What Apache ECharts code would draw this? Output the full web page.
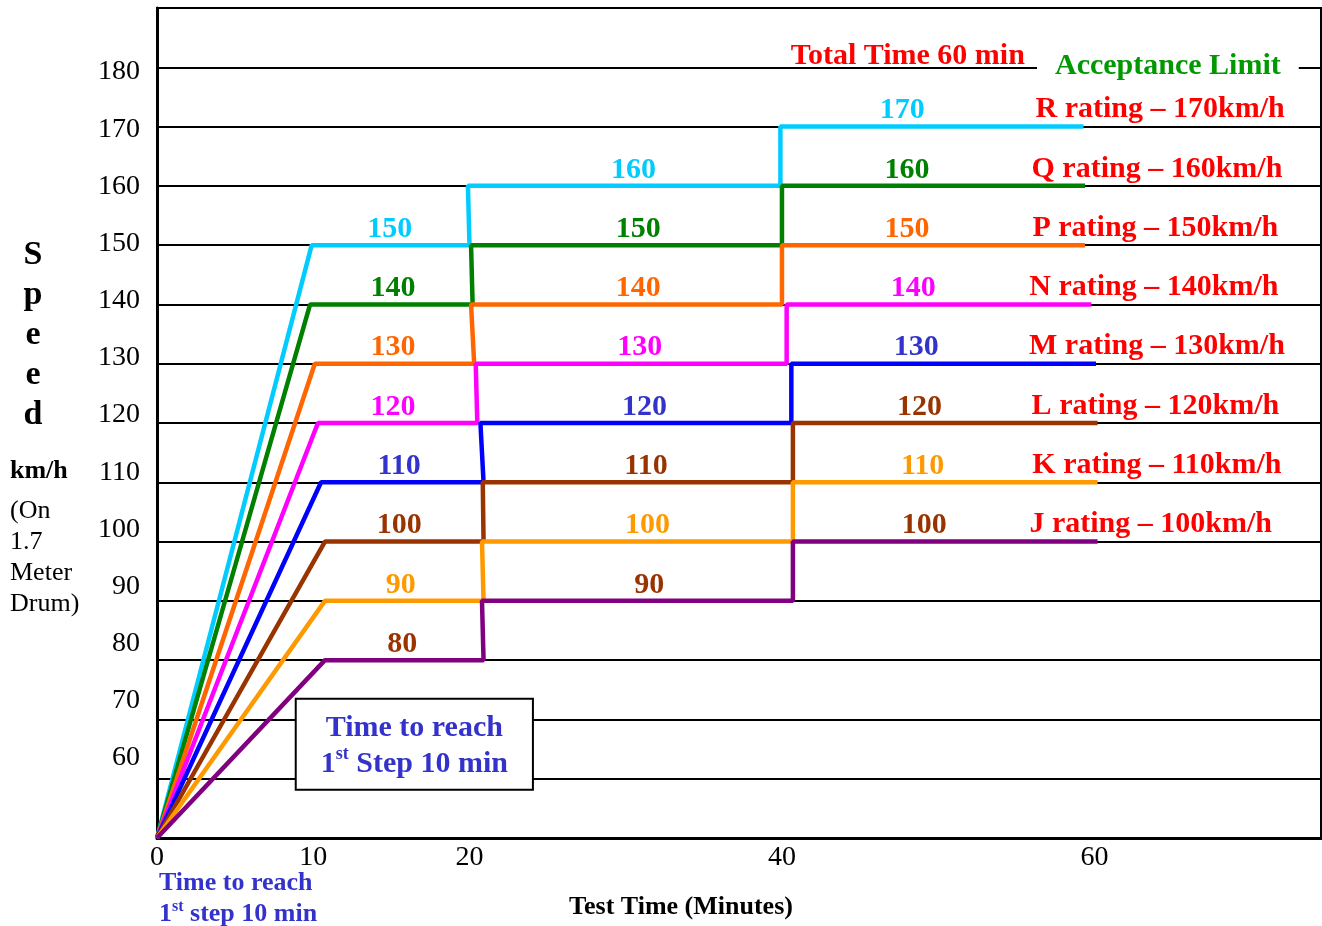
<!DOCTYPE html>
<html>
<head>
<meta charset="utf-8">
<script src="https://cdn.jsdelivr.net/npm/echarts@6/dist/echarts.min.js"></script>
<style>
html,body{margin:0;padding:0;background:#fff;}
#chart{width:1322px;height:926px;}
</style>
</head>
<body>
<div id="chart"></div>
<script>
// ---- Data ----
const ratingLetters = ['R', 'Q', 'P', 'N', 'M', 'L', 'K', 'J'];
const ratingNames = [
  'R rating – 170km/h', 'Q rating – 160km/h', 'P rating – 150km/h', 'N rating – 140km/h',
  'M rating – 130km/h', 'L rating – 120km/h', 'K rating – 110km/h', 'J rating – 100km/h'
];
const ratingSpeeds = [170, 160, 150, 140, 130, 120, 110, 100];

// step profile of each rating: time (min) and speed (km/h) at each corner
const stepTimes = [
  [0, 9.9, 20.0, 19.9, 39.9, 39.9, 59.3],
  [0, 9.8, 20.2, 20.1, 40.0, 40.0, 59.4],
  [0, 10.1, 20.3, 20.1, 40.0, 40.0, 59.4],
  [0, 10.3, 20.5, 20.4, 40.3, 40.3, 59.8],
  [0, 10.5, 20.9, 20.7, 40.6, 40.6, 60.1],
  [0, 10.75, 20.9, 20.85, 40.7, 40.7, 60.2],
  [0, 10.75, 20.9, 20.8, 40.7, 40.7, 60.2],
  [0, 10.75, 20.9, 20.8, 40.7, 40.7, 60.2]
];
const stepSpeeds = [
  [50, 150, 150, 160, 160, 170, 170],
  [50, 140, 140, 150, 150, 160, 160],
  [50, 130, 130, 140, 140, 150, 150],
  [50, 120, 120, 130, 130, 140, 140],
  [50, 110, 110, 120, 120, 130, 130],
  [50, 100, 100, 110, 110, 120, 120],
  [50, 90, 90, 100, 100, 110, 110],
  [50, 80, 80, 90, 90, 100, 100]
];
// time at which each step's value label sits (step 1, 2, 3)
const valueLabelTimes = [
  [14.9, 30.5, 47.7],
  [15.1, 30.8, 48.0],
  [15.1, 30.8, 48.0],
  [15.1, 30.9, 48.4],
  [15.5, 31.2, 48.6],
  [15.5, 31.3, 48.8],
  [15.6, 31.4, 49.0],
  [15.7, 31.5, 49.1]
];
const ratingLabelTimes = [64.2, 64.0, 63.9, 63.8, 64.0, 63.9, 64.0, 63.6];

const xTickValues = [0, 10, 20, 40, 60];
const yTickValues = [60, 70, 80, 90, 100, 110, 120, 130, 140, 150, 160, 170, 180];

const annotationTotal = { text: 'Total Time 60 min', time: 48.05, speed: 180 };
const annotationLimit = { text: 'Acceptance Limit', time: 64.7, speed: 180 };
const annotationBox = { time: 16.47, speed: 65.8 };

// ---- Styles ----
const lineColors = ['#00CCFF', '#008000', '#FF6600', '#FF00FF', '#0000FF', '#993300', '#FF9900', '#800080'];
const valueLabelColors = ['#00CCFF', '#008000', '#FF6600', '#FF00FF', '#3333CC', '#993300', '#FF9900', '#993300'];
const SERIF = '"Liberation Serif", "Times New Roman", serif';

const series = ratingLetters.map((letter, i) => {
  const valueMarks = [1, 3, 5].map((k, j) => ({
    coord: [valueLabelTimes[i][j], stepSpeeds[i][k]],
    value: stepSpeeds[i][k],
    label: {
      show: true,
      formatter: String(stepSpeeds[i][k]),
      color: valueLabelColors[i],
      fontSize: 30,
      fontWeight: 'bold',
      fontFamily: SERIF,
      offset: [0, -16]
    }
  }));
  const ratingMark = {
    coord: [ratingLabelTimes[i], ratingSpeeds[i]],
    value: ratingSpeeds[i],
    label: {
      show: true,
      formatter: ratingNames[i],
      color: '#FF0000',
      fontSize: 30,
      fontWeight: 'bold',
      fontFamily: SERIF,
      offset: [0, -17]
    }
  };
  return {
    type: 'line',
    name: letter,
    data: stepTimes[i].map((t, k) => [t, stepSpeeds[i][k]]),
    symbol: 'none',
    lineStyle: { color: lineColors[i], width: 4.5 },
    itemStyle: { color: lineColors[i] },
    silent: true,
    animation: false,
    z: 3,
    markPoint: {
      symbol: 'circle',
      symbolSize: 0,
      silent: true,
      animation: false,
      data: valueMarks.concat([ratingMark])
    }
  };
});

// annotation series (no line data, only labels tied to the axes)
series.push({
  type: 'line',
  name: 'annotations',
  data: [],
  symbol: 'none',
  silent: true,
  animation: false,
  z: 5,
  markPoint: {
    symbol: 'circle',
    symbolSize: 0,
    silent: true,
    animation: false,
    data: [
      {
        coord: [annotationTotal.time, annotationTotal.speed],
        label: {
          show: true, formatter: annotationTotal.text, color: '#FF0000',
          fontSize: 30, fontWeight: 'bold', fontFamily: SERIF, offset: [0, -11]
        }
      },
      {
        coord: [annotationLimit.time, annotationLimit.speed],
        label: {
          show: true, formatter: annotationLimit.text, color: '#009900',
          fontSize: 30, fontWeight: 'bold', fontFamily: SERIF, offset: [0, -1],
          backgroundColor: '#FFFFFF', padding: [3, 18, 3, 18]
        }
      },
      {
        coord: [annotationBox.time, annotationBox.speed],
        label: {
          show: true,
          formatter: '{a|Time to reach}\n{a|1}{s|st}{a| Step 10 min}',
          backgroundColor: '#FFFFFF',
          borderColor: '#000000',
          borderWidth: 2,
          padding: [10, 24, 7, 24],
          align: 'center',
          rich: {
            a: { color: '#3333CC', fontSize: 30, fontWeight: 'bold', fontFamily: SERIF, lineHeight: 36 },
            s: { color: '#3333CC', fontSize: 18, fontWeight: 'bold', fontFamily: SERIF, lineHeight: 22, verticalAlign: 'top' }
          }
        }
      }
    ]
  }
});

const option = {
  backgroundColor: '#FFFFFF',
  animation: false,
  grid: {
    left: 157, right: 1, top: 8, bottom: 88,
    show: true, borderColor: '#000000', borderWidth: 2, backgroundColor: 'transparent'
  },
  xAxis: {
    type: 'value',
    min: 0,
    max: 74.5,
    name: 'Test Time (Minutes)',
    nameLocation: 'middle',
    nameGap: 56,
    nameTextStyle: {
      color: '#000000', fontSize: 26, fontWeight: 'bold', fontFamily: SERIF,
      padding: [0, 116, 0, 0]
    },
    axisLine: { show: true, lineStyle: { color: '#000000', width: 3 } },
    axisTick: { show: false },
    splitLine: { show: false },
    axisLabel: {
      customValues: xTickValues,
      color: '#000000', fontSize: 28, fontFamily: SERIF, margin: 6
    }
  },
  yAxis: [
    {
      type: 'value',
      min: 50,
      max: 190,
      interval: 10,
      axisLine: { show: true, lineStyle: { color: '#000000', width: 3 } },
      axisTick: { show: false },
      axisLabel: { show: false },
      splitLine: { show: true, lineStyle: { color: '#000000', width: 2 } }
    },
    {
      type: 'value',
      min: 46,
      max: 191.2,
      splitNumber: 15,
      position: 'left',
      axisLine: { show: false },
      axisTick: { show: false },
      splitLine: { show: false },
      axisLabel: {
        color: '#000000', fontSize: 28, fontFamily: SERIF, margin: 17,
        formatter: function (v) {
          const r = Math.round(v);
          return (Math.abs(v - r) < 1e-6 && yTickValues.indexOf(r) >= 0) ? String(r) : '';
        }
      }
    }
  ],
  series: series,
  graphic: [
    {
      type: 'text', x: 33, y: 235, silent: true,
      style: {
        text: 'S\np\ne\ne\nd', fill: '#000000',
        font: 'bold 34px ' + SERIF, align: 'center', verticalAlign: 'top', lineHeight: 40
      }
    },
    {
      type: 'text', x: 10, y: 471, silent: true,
      style: {
        text: 'km/h', fill: '#000000',
        font: 'bold 26px ' + SERIF, align: 'left', verticalAlign: 'middle'
      }
    },
    {
      type: 'text', x: 10, y: 496, silent: true,
      style: {
        text: '(On\n1.7\nMeter\nDrum)', fill: '#000000',
        font: '26px ' + SERIF, align: 'left', verticalAlign: 'top', lineHeight: 31
      }
    },
    {
      type: 'text', x: 159, y: 868, silent: true,
      style: {
        text: '{a|Time to reach}\n{a|1}{s|st}{a| step 10 min}',
        align: 'left', verticalAlign: 'top',
        rich: {
          a: { fill: '#3333CC', fontSize: 26, fontWeight: 'bold', fontFamily: SERIF, lineHeight: 31 },
          s: { fill: '#3333CC', fontSize: 16, fontWeight: 'bold', fontFamily: SERIF, lineHeight: 18, verticalAlign: 'top' }
        }
      }
    }
  ]
};

const chart = echarts.init(document.getElementById('chart'), null, { renderer: 'canvas' });
chart.setOption(option);
</script>
</body>
</html>
